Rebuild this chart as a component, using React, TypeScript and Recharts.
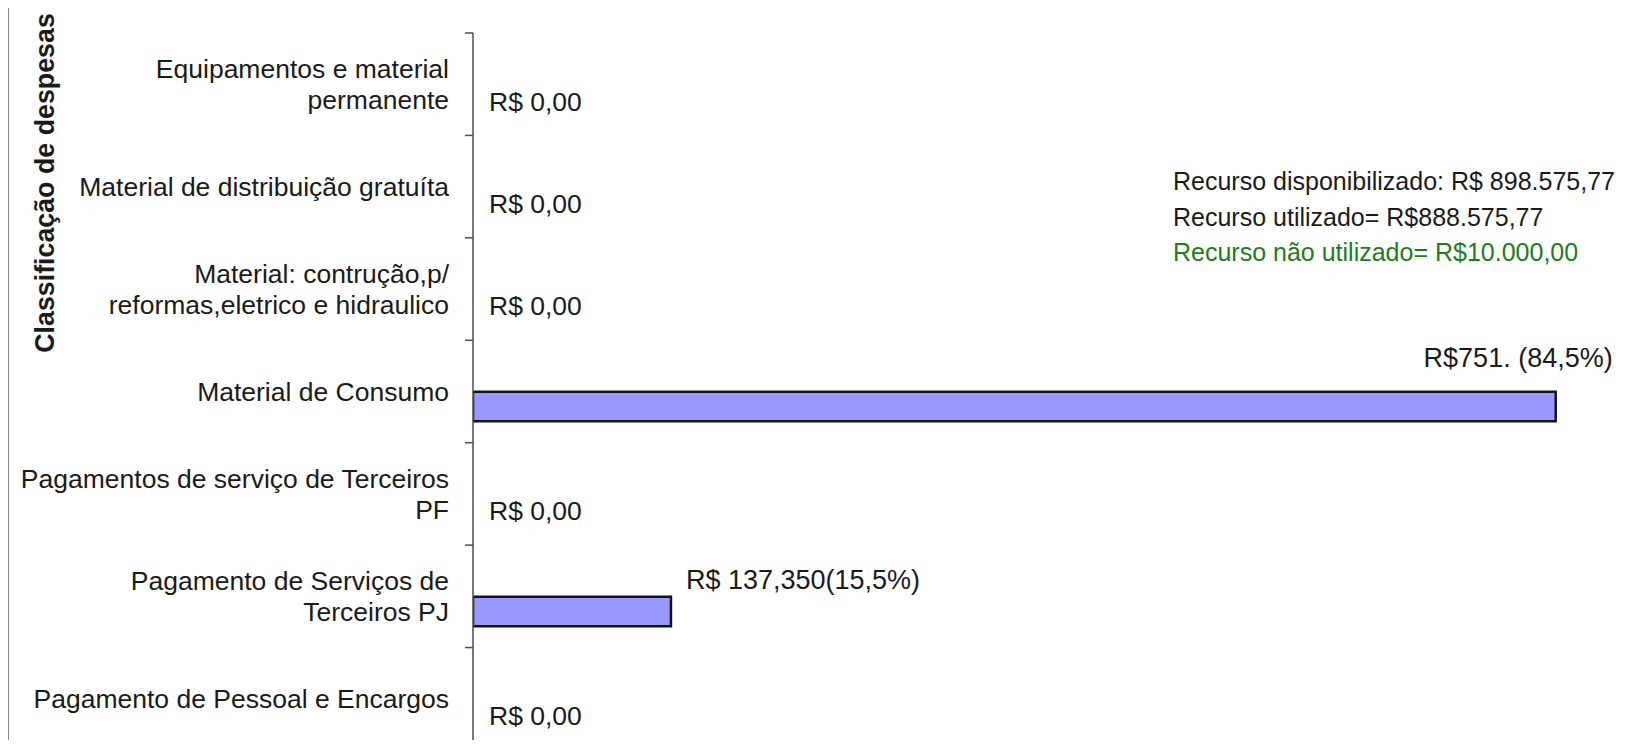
import React from "react";
import { BarChart, Bar, XAxis, YAxis, LabelList, Customized, Cell } from "recharts";

const categorias = [
  "Equipamentos e material\npermanente",
  "Material de distribuição gratuíta",
  "Material: contrução,p/\nreformas,eletrico e hidraulico",
  "Material de Consumo",
  "Pagamentos de serviço de Terceiros\nPF",
  "Pagamento de Serviços de\nTerceiros PJ",
  "Pagamento de Pessoal e Encargos",
];
const valores = [0, 0, 0, 751225.77, 0, 137350, 0];
const vazio = [0, 0, 0, 0, 0, 0, 0];
const rotulos = [
  "R$ 0,00",
  "R$ 0,00",
  "R$ 0,00",
  "R$751. (84,5%)",
  "R$ 0,00",
  "R$ 137,350(15,5%)",
  "R$ 0,00",
];
const notas = [
  "Recurso disponibilizado: R$ 898.575,77",
  "Recurso utilizado= R$888.575,77",
  "Recurso não utilizado= R$10.000,00",
];
const tituloEixo = "Classificação de despesas";
const dominioX: [number, number] = [0, 800000];

const data = categorias.map((c, i) => ({
  categoria: c,
  vazio: vazio[i],
  valor: valores[i],
  rotulo: rotulos[i],
}));

const FONT = "'Liberation Sans', Arial, sans-serif";
const FS = 26.5;
const FS_NOTE = 25;
const FS_TITLE = 26.8;
const TXT = "#1a1a1a";
const W = 1627;
const H = 760;
const AXIS_W = 473;
const M = { top: 33, right: 1, bottom: 10, left: 0 };
const PLOT_H = H - M.top - M.bottom;
const PLOT_W = W - M.left - M.right - AXIS_W;
const BAND = PLOT_H / categorias.length;
const AXIS_X = M.left + AXIS_W;

const CategoryTick = (props: any) => {
  const { y, payload } = props;
  const lines: string[] = String(payload.value).split("\n");
  const lh = 31;
  const y0 = y - ((lines.length - 1) * lh) / 2;
  return (
    <g>
      <line x1={AXIS_X - 8} x2={AXIS_X} y1={y - BAND / 2} y2={y - BAND / 2} stroke="#4d4d4d" strokeWidth={1.5} />
      <text x={AXIS_X - 24} y={y0} textAnchor="end" fontFamily={FONT} fontSize={FS} fill={TXT}>
        {lines.map((l, i) => (
          <tspan key={i} x={AXIS_X - 24} y={y0 + i * lh} dy="0.35em">
            {l}
          </tspan>
        ))}
      </text>
    </g>
  );
};

const ValueLabel = (props: any) => {
  const { x, y, width, height, value } = props;
  const txt = String(value);
  if (width < 1) {
    return (
      <text x={x + 16} y={y + height / 2 + 2} dy="0.35em" fontFamily={FONT} fontSize={FS} fill={TXT}>
        {txt}
      </text>
    );
  }
  if (width > PLOT_W * 0.5) {
    return (
      <text x={x + width + 57} y={y - 25} textAnchor="end" fontFamily={FONT} fontSize={27} fill={TXT}>
        {txt}
      </text>
    );
  }
  return (
    <text x={x + width + 15} y={y - 8} fontFamily={FONT} fontSize={27} fill={TXT}>
      {txt}
    </text>
  );
};

const Extras = () => (
  <g>
    <text
      x={54}
      y={183}
      transform="rotate(-90, 54, 183)"
      textAnchor="middle"
      fontFamily={FONT}
      fontSize={FS_TITLE}
      fontWeight="bold"
      fill={TXT}
    >
      {tituloEixo}
    </text>
    {notas.map((n, i) => (
      <text
        key={i}
        x={1173}
        y={190 + i * 35.5}
        fontFamily={FONT}
        fontSize={FS_NOTE}
        fill={i === 2 ? "#1e7b1e" : TXT}
      >
        {n}
      </text>
    ))}
  </g>
);

export default function App() {
  return (
    <div style={{ width: W, height: 748, margin: -8, position: "relative", overflow: "hidden", background: "#fff" }}>
      <div style={{ position: "absolute", left: 7, top: 0, width: 2, height: 748, background: "#8a8a8a" }} />
      <BarChart
        width={W}
        height={H}
        data={data}
        layout="vertical"
        margin={M}
        barGap={0}
        barSize={29.5}
      >
        <XAxis type="number" domain={dominioX} hide allowDataOverflow />
        <YAxis
          type="category"
          dataKey="categoria"
          width={AXIS_W}
          axisLine={{ stroke: "#4d4d4d", strokeWidth: 1.5 }}
          tickLine={false}
          tick={<CategoryTick />}
          interval={0}
        />
        <Bar dataKey="vazio" fill="none" stroke="none" isAnimationActive={false} />
        <Bar dataKey="valor" fill="#9999ff" stroke="#141414" strokeWidth={2.5} minPointSize={0.01} isAnimationActive={false}>
          {valores.map((v, i) => (
            <Cell key={i} stroke={v ? "#141414" : "none"} fill={v ? "#9999ff" : "none"} />
          ))}
          <LabelList dataKey="rotulo" content={<ValueLabel />} />
        </Bar>
        <Customized component={<Extras />} />
      </BarChart>
    </div>
  );
}
